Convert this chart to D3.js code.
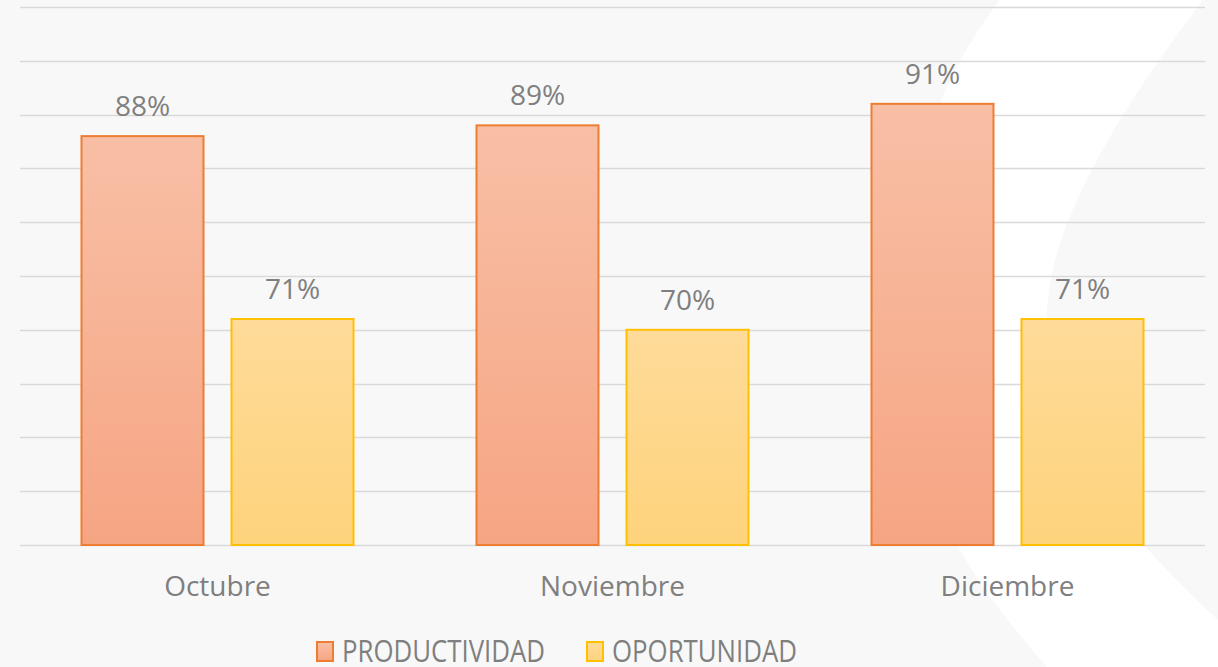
<!DOCTYPE html>
<meta charset="utf-8">
<script src="https://d3js.org/d3.v7.min.js"></script>
<style>
  body { margin: 0; background: #f8f8f8; }
  svg { display: block; font-family: "Open Sans", sans-serif; }
</style>
<div id="chart"></div>
<script>
// data
var months = ["Octubre", "Noviembre", "Diciembre"];
var seriesNames = ["PRODUCTIVIDAD", "OPORTUNIDAD"];
var productividad = [0.88, 0.89, 0.91];
var oportunidad = [0.71, 0.70, 0.71];
var gridTicks = [0.5, 0.55, 0.6, 0.65, 0.7, 0.75, 0.8, 0.85, 0.9, 0.95, 1];

var W = 1218, H = 667;
var textColor = "#7f7f7f";
var styles = {
  PRODUCTIVIDAD: { top: "#f8bfa6", bottom: "#f6a583", stroke: "#ed7d31", id: "gProd" },
  OPORTUNIDAD:   { top: "#fedb99", bottom: "#fed37c", stroke: "#ffc000", id: "gOpo" }
};

var svg = d3.select("#chart").append("svg")
  .attr("width", W).attr("height", H);

// gradients
var defs = svg.append("defs");
seriesNames.forEach(function(s) {
  var g = defs.append("linearGradient").attr("id", styles[s].id)
    .attr("x1", 0).attr("y1", 0).attr("x2", 0).attr("y2", 1);
  g.append("stop").attr("offset", "0%").attr("stop-color", styles[s].top);
  g.append("stop").attr("offset", "100%").attr("stop-color", styles[s].bottom);
});

// background white swoosh
svg.append("rect").attr("width", W).attr("height", H).attr("fill", "#f8f8f8");
svg.append("path")
  .attr("d", "M1000,0 L1203,0 C1150,70 1080,170 1055,260 C1035,340 1050,420 1100,490 " +
             "C1140,545 1180,585 1218,620 L1218,667 L1047,667 C1010,625 975,580 955,540 " +
             "C900,430 895,300 920,170 C935,100 965,45 1000,0 Z")
  .attr("fill", "#ffffff");

// scales
var x0 = d3.scaleBand().domain(months).range([20, 1205]).padding(0);
var x1 = d3.scaleBand().domain(seriesNames)
  .range([61.5, 333.5]).paddingInner(0.1867).paddingOuter(0);
var y = d3.scaleLinear().domain([0.5, 1]).range([545, 7]);

// gridlines
svg.append("g").selectAll("line").data(gridTicks).join("line")
  .attr("x1", 20).attr("x2", 1205)
  .attr("y1", function(d) { return Math.round(y(d)) + 0.5; })
  .attr("y2", function(d) { return Math.round(y(d)) + 0.5; })
  .attr("stroke", "#d9d9d9").attr("stroke-width", 1.6);

// bars
var rows = months.map(function(m, i) {
  return { month: m, values: [
    { key: "PRODUCTIVIDAD", value: productividad[i] },
    { key: "OPORTUNIDAD", value: oportunidad[i] }
  ] };
});

var groups = svg.append("g").selectAll("g").data(rows).join("g")
  .attr("transform", function(d) { return "translate(" + x0(d.month) + ",0)"; });

groups.selectAll("rect").data(function(d) { return d.values; }).join("rect")
  .attr("x", function(d) { return x1(d.key); })
  .attr("y", function(d) { return y(d.value); })
  .attr("width", x1.bandwidth())
  .attr("height", function(d) { return y(0.5) - y(d.value); })
  .attr("fill", function(d) { return "url(#" + styles[d.key].id + ")"; })
  .attr("stroke", function(d) { return styles[d.key].stroke; })
  .attr("stroke-width", 2);

// value labels
var fmt = d3.format(".0%");
groups.selectAll("text").data(function(d) { return d.values; }).join("text")
  .attr("x", function(d) { return x1(d.key) + x1.bandwidth() / 2; })
  .attr("y", function(d) { return y(d.value) - 20; })
  .attr("text-anchor", "middle")
  .attr("fill", textColor)
  .style("font-size", "28px")
  .text(function(d) { return fmt(d.value); });

// category labels
svg.append("g").selectAll("text").data(months).join("text")
  .attr("x", function(d) { return x0(d) + x0.bandwidth() / 2; })
  .attr("y", 596)
  .attr("text-anchor", "middle")
  .attr("fill", textColor)
  .style("font-size", "28px")
  .text(function(d) { return d; });

// legend
var legendX = { PRODUCTIVIDAD: 316, OPORTUNIDAD: 586 };
var legendW = { PRODUCTIVIDAD: 203, OPORTUNIDAD: 185 };
var legend = svg.append("g").selectAll("g").data(seriesNames).join("g")
  .attr("transform", function(d) { return "translate(" + legendX[d] + ",0)"; });
legend.append("rect")
  .attr("x", 1).attr("y", 642).attr("width", 16).attr("height", 19)
  .attr("fill", function(d) { return "url(#" + styles[d].id + ")"; })
  .attr("stroke", function(d) { return styles[d].stroke; })
  .attr("stroke-width", 2);
legend.append("text")
  .attr("x", 26).attr("y", 662)
  .attr("fill", textColor)
  .style("font-size", "31px")
  .attr("textLength", function(d) { return legendW[d]; })
  .attr("lengthAdjust", "spacingAndGlyphs")
  .text(function(d) { return d; });
</script>
